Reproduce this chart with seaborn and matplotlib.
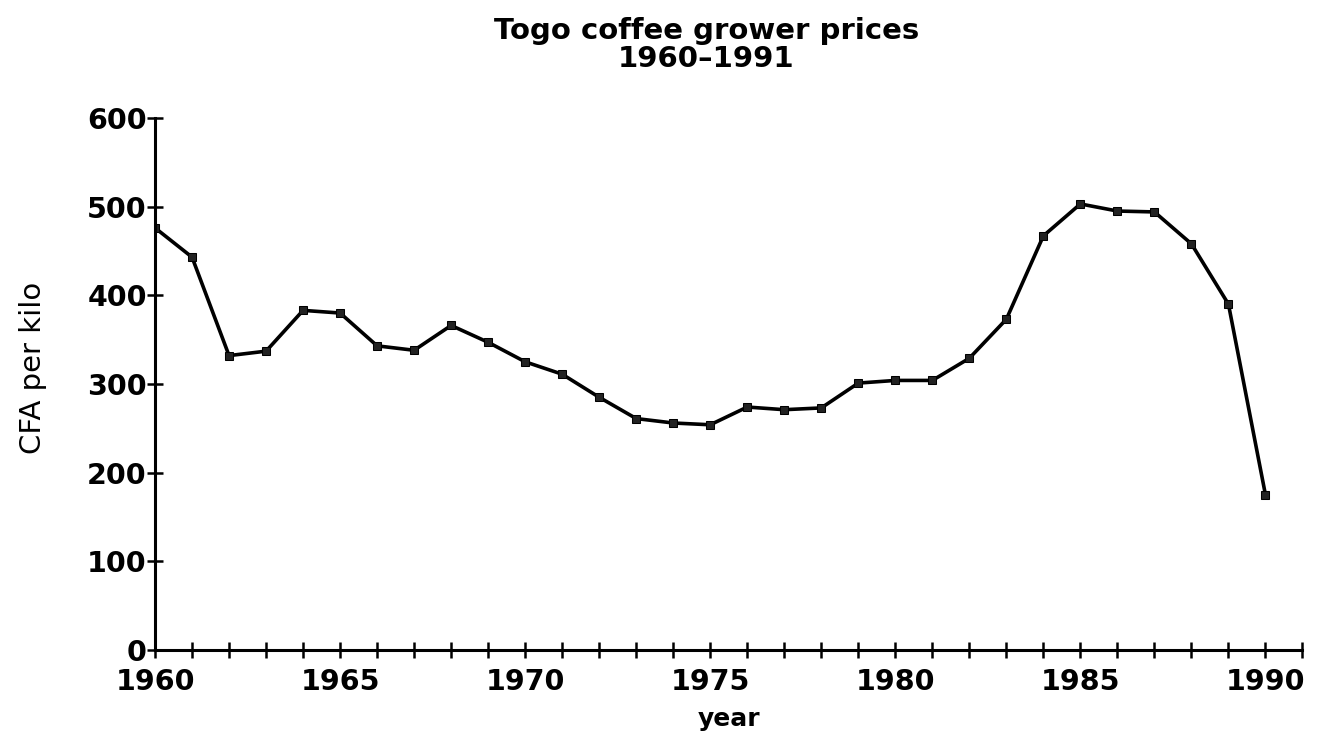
import matplotlib
matplotlib.use("Agg")
import matplotlib.pyplot as plt
import seaborn as sns
import pandas as pd
from matplotlib.ticker import MultipleLocator

# Grower price of coffee in Togo, CFA francs per kilo
years = list(range(1960, 1991))
prices = [476, 443, 332, 337, 383, 380, 343, 338, 366, 347,
          325, 311, 285, 261, 256, 254, 274, 271, 273, 301,
          304, 304, 329, 373, 467, 503, 495, 494, 458, 390,
          175]
major_ticks = [1960, 1965, 1970, 1975, 1980, 1985, 1990]
y_ticks = [0, 100, 200, 300, 400, 500, 600]

sns.set_style("ticks")
plt.rcParams["font.family"] = ["DejaVu Sans"]
plt.rcParams["text.color"] = "black"
plt.rcParams["axes.labelcolor"] = "black"
plt.rcParams["xtick.color"] = "black"
plt.rcParams["ytick.color"] = "black"

df = pd.DataFrame({"year": years, "price": prices})

fig = plt.figure(figsize=(13.25, 7.37), dpi=100)
ax = fig.add_axes([0.117, 0.118, 0.866, 0.722])

sns.lineplot(data=df, x="year", y="price", ax=ax, color="black",
             linewidth=2.6, marker="s", markersize=6,
             markerfacecolor="#222222", markeredgecolor="black")

ax.set_xlim(1960, 1991)
ax.set_ylim(0, 600)
ax.set_xticks(major_ticks)
ax.xaxis.set_minor_locator(MultipleLocator(1))
ax.set_yticks(y_ticks)

for side in ("top", "right"):
    ax.spines[side].set_visible(False)
for side in ("left", "bottom"):
    ax.spines[side].set_linewidth(2.2)
    ax.spines[side].set_color("black")

ax.tick_params(axis="both", which="both", direction="inout", width=1.8,
               length=12, color="black")
ax.tick_params(axis="x", which="major", labelsize=20.5, pad=7)
ax.tick_params(axis="y", which="major", labelsize=20.5, pad=0)
for lab in ax.get_xticklabels() + ax.get_yticklabels():
    lab.set_fontweight("bold")

ax.set_xlabel("year", fontsize=18, fontweight="bold", labelpad=8)
ax.set_ylabel("CFA per kilo", fontsize=21)
ax.yaxis.set_label_coords(-0.094, 0.53)

fig.text(0.533, 0.977, "Togo coffee grower prices\n1960\u20131991",
         ha="center", va="top", fontsize=21, fontweight="bold",
         linespacing=1.0)

fig.savefig("out.png", dpi=100)
